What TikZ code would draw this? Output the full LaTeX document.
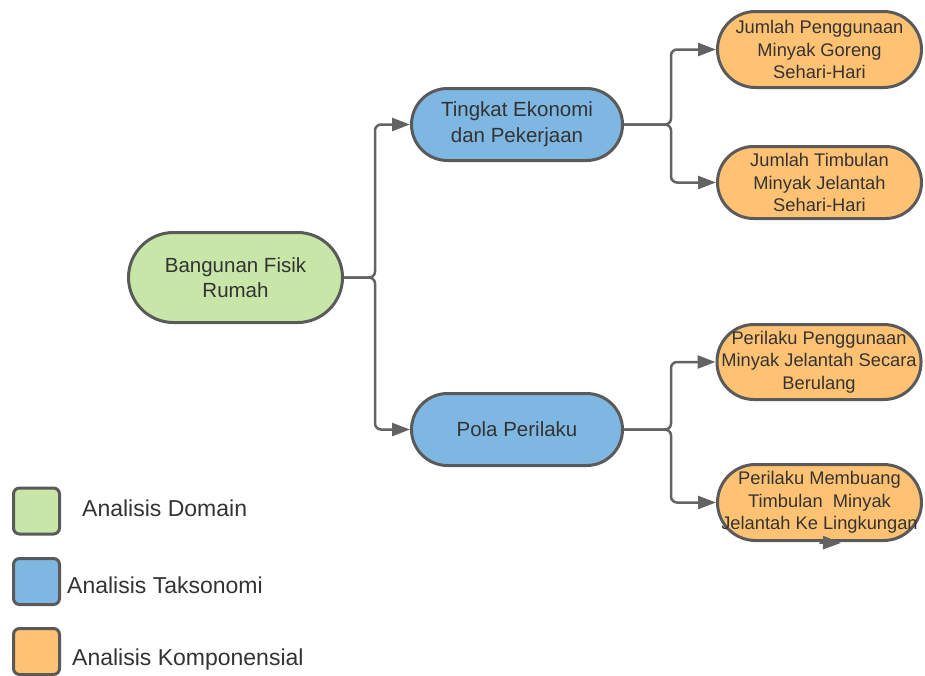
\documentclass[tikz,border=0pt]{standalone}
\usepackage{fontspec}
\setmainfont{Liberation Sans}
\usetikzlibrary{arrows.meta}
\definecolor{gfill}{HTML}{C7E6A7}
\definecolor{bfill}{HTML}{7FB7E3}
\definecolor{ofill}{HTML}{FFC273}
\definecolor{edgec}{HTML}{5A5A5A}
\definecolor{txt}{HTML}{333333}
\definecolor{lnk}{HTML}{636363}
\begin{document}
\begin{tikzpicture}[x=1pt,y=-1pt,
  box/.style={draw=edgec, line width=3pt, inner sep=0pt, align=center, text=txt},
  gbox/.style={box, fill=gfill, minimum width=214pt, minimum height=90pt, rounded corners=45pt, font=\fontsize{20.5}{24.5}\selectfont},
  bbox/.style={box, fill=bfill, minimum width=211pt, minimum height=72pt, rounded corners=36pt, font=\fontsize{20.5}{26}\selectfont},
  obox/.style={box, fill=ofill, minimum width=204pt, minimum height=74pt, rounded corners=37pt, font=\fontsize{18.3}{22.5}\selectfont},
  conn/.style={draw=lnk, line width=2.5pt, rounded corners=6pt, -{Triangle[length=18pt,width=13pt]}},
  legsq/.style={draw=edgec, line width=3pt, minimum width=46pt, minimum height=46pt, rounded corners=6pt, inner sep=0pt},
  legtxt/.style={anchor=base west, inner sep=0pt, text=txt, font=\fontsize{23}{27}\selectfont}
]
\useasboundingbox (0,0) rectangle (925,675);
\node[gbox] (g) at (235.5,277.5) {Bangunan Fisik\\Rumah};
\node[bbox] (b1) at (517,124.5) {Tingkat Ekonomi\\dan Pekerjaan};
\node[bbox] (b2) at (517,429.5) {Pola Perilaku};
\node[obox, minimum height=76pt, rounded corners=38pt] (o1) at (819.5,49.5) {Jumlah Penggunaan\\Minyak Goreng\\Sehari-Hari};
\node[obox, minimum height=72pt, rounded corners=36pt] (o2) at (819.5,182.5) {Jumlah Timbulan\\Minyak Jelantah\\Sehari-Hari};
\node[obox, minimum height=75pt] (o3) at (819,362) {Perilaku Penggunaan\\Minyak Jelantah Secara\\Berulang};
\node[obox, minimum height=76pt, rounded corners=38pt] (o4) at (819.5,502.5) {Perilaku Membuang\\Timbulan\ \ Minyak\\Jelantah Ke Lingkungan};
\draw[conn] (g.east) -- ++(31,0) |- (b1.west);
\draw[conn] (g.east) -- ++(31,0) |- (b2.west);
\draw[conn] (b1.east) -- ++(47,0) |- (o1.west);
\draw[conn] (b1.east) -- ++(47,0) |- (o2.west);
\draw[conn] (b2.east) -- ++(47,0) |- (o3.west);
\draw[conn] (b2.east) -- ++(47,0) |- (o4.west);
\coordinate (straytip) at (841,543);
\draw[conn] (o4.south) ++(0,0.5) -- (straytip);
\node[legsq, fill=gfill] (lg) at (36.5,511) {};
\node[legsq, fill=bfill] (lb) at (36.5,581.5) {};
\node[legsq, fill=ofill] (lo) at (36.5,651.5) {};
\node[legtxt] (tg) at (82,516) {Analisis Domain};
\node[legtxt] (tb) at (67,593) {Analisis Taksonomi};
\node[legtxt] (to) at (72,665) {Analisis Komponensial};
\end{tikzpicture}
\end{document}
